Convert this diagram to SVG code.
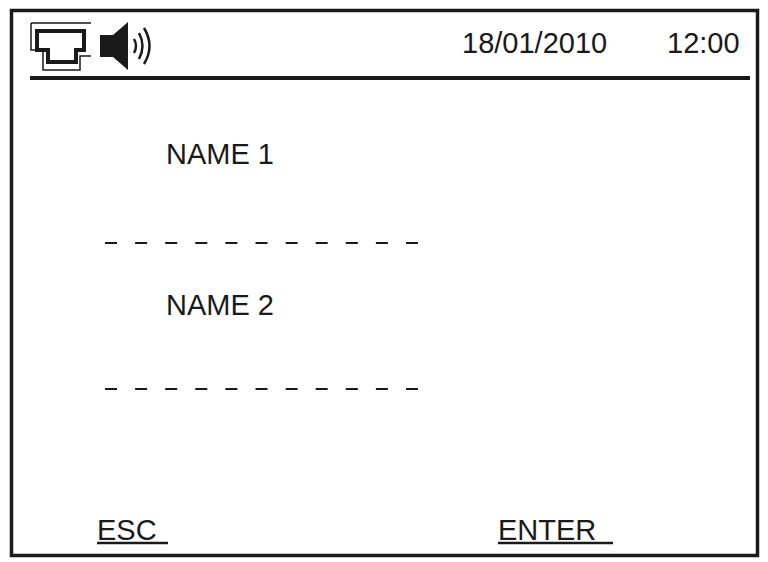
<svg xmlns="http://www.w3.org/2000/svg" width="768" height="562" viewBox="0 0 768 562">
<style>
text{font-family:"Liberation Sans",Arial,sans-serif;font-size:29px;fill:#1a1a1a}
.dash{stroke:#1a1a1a;stroke-width:2;stroke-dasharray:12 18.1}
</style>
<rect width="768" height="562" fill="#fff"/>
<rect id="frame" x="11.5" y="10.5" width="746" height="545" fill="none" stroke="#1a1a1a" stroke-width="3.5"/>
<g id="network-icon" fill="none" stroke="#1a1a1a">
<path d="M31 23 H91 M31 23 V50 H43 V70 H80 V56 H91" stroke-width="1.5"/>
<path d="M37 31 H84 V50 H76 V62 H48 V50 H37 Z" stroke-width="4"/>
</g>
<g id="speaker-icon">
<path d="M100 35 H113 L128 22 V70 L113 57 H100 Z" fill="#1a1a1a"/>
<g fill="none" stroke="#1a1a1a" stroke-width="2.5">
<path d="M134 39 Q138 46 134 53"/>
<path d="M139 33 Q146 46 139 59"/>
<path d="M144 28 Q155 46 144 64"/>
</g>
</g>
<text id="date" x="462" y="53">18/01/2010</text>
<text id="time" x="667" y="53">12:00</text>
<line x1="30" y1="78" x2="750" y2="78" stroke="#1a1a1a" stroke-width="4"/>
<text id="name1" x="166" y="164">NAME 1</text>
<line class="dash" x1="105" y1="243" x2="418" y2="243"/>
<text id="name2" x="166" y="315">NAME 2</text>
<line class="dash" x1="105" y1="389" x2="418" y2="389"/>
<g id="esc"><text x="97" y="540">ESC</text><line x1="97" y1="543" x2="168" y2="543" stroke="#1a1a1a" stroke-width="2.5"/></g>
<g id="enter"><text x="498" y="540">ENTER</text><line x1="498" y1="543" x2="613" y2="543" stroke="#1a1a1a" stroke-width="2.5"/></g>
</svg>
